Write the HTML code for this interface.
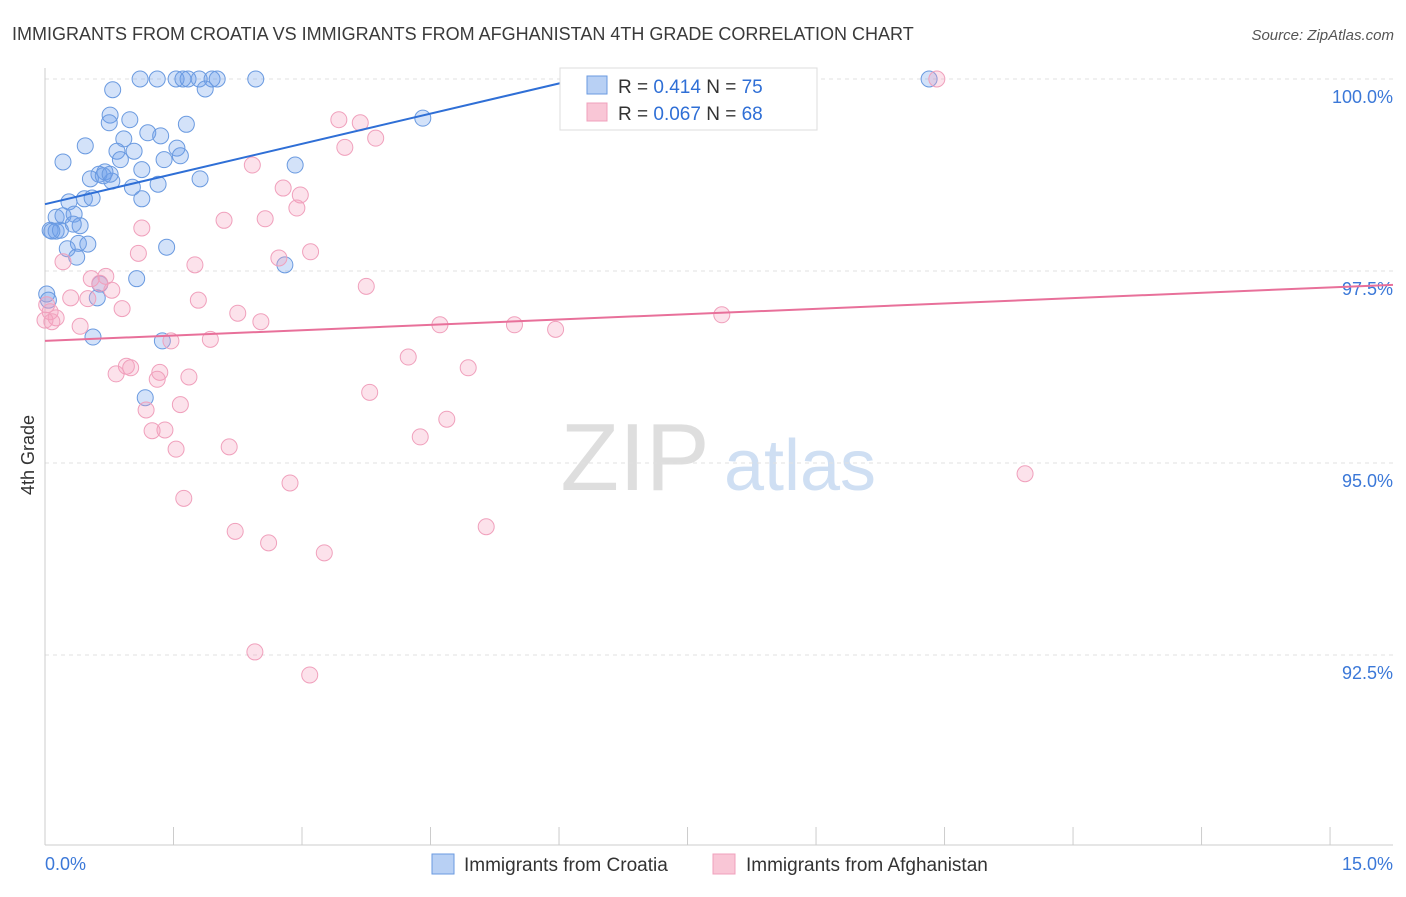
<!DOCTYPE html>
<html><head><meta charset="utf-8"><style>
body{margin:0;background:#fff;font-family:"Liberation Sans",sans-serif;}
svg text{font-family:"Liberation Sans",sans-serif;}
</style></head><body>
<svg id="chart" width="1406" height="892" xmlns="http://www.w3.org/2000/svg">
<text x="12" y="40" font-size="18" fill="#3a3a3a">IMMIGRANTS FROM CROATIA VS IMMIGRANTS FROM AFGHANISTAN 4TH GRADE CORRELATION CHART</text>
<text x="1394" y="40" font-size="15" fill="#555" font-style="italic" text-anchor="end">Source: ZipAtlas.com</text>
<g>
<text x="635" y="490" font-size="96" fill="#dedede" font-family="Liberation Serif" text-anchor="middle">ZIP</text>
<text x="800" y="490" font-size="72" fill="#cfdff3" text-anchor="middle">atlas</text>
</g>
<g id="grid"></g>
<g id="axes"></g>
<g id="marks"></g>
<text transform="translate(34,455) rotate(-90)" font-size="18" fill="#333" text-anchor="middle">4th Grade</text>
<g>
<rect x="560" y="68" width="257" height="62" fill="#fff" stroke="#ddd"/>
<rect x="587" y="76" width="20" height="18" fill="#b8d0f4" stroke="#6a9ae0"/>
<rect x="587" y="103" width="20" height="18" fill="#f9c6d6" stroke="#f0a0bc"/>
<text x="618" y="93" font-size="19" fill="#333">R = <tspan fill="#2f6fd6">0.414</tspan>   N = <tspan fill="#2f6fd6">75</tspan></text>
<text x="618" y="120" font-size="19" fill="#333">R = <tspan fill="#2f6fd6">0.067</tspan>   N = <tspan fill="#2f6fd6">68</tspan></text>
</g>
<g>
<rect x="432" y="854" width="22" height="20" fill="#b8d0f4" stroke="#6a9ae0"/>
<text x="464" y="871" font-size="19" fill="#333">Immigrants from Croatia</text>
<rect x="713" y="854" width="22" height="20" fill="#f9c6d6" stroke="#f0a0bc"/>
<text x="746" y="871" font-size="19" fill="#333">Immigrants from Afghanistan</text>
</g>
</svg>
<script>
const xTickVals=[0,1.5,3,4.5,6,7.5,9,10.5,12,13.5,15];
const xTickLabels=["0.0%","15.0%"];
const yTickVals=[100,97.5,95,92.5];
const yTickLabels=["100.0%","97.5%","95.0%","92.5%"];
const croatiaX=[1.11,1.31,1.53,1.61,1.67,1.80,1.95,2.01,2.46,10.32,0.79,1.87,0.76,0.99,1.65,4.41,0.75,1.20,1.35,0.92,0.47,0.84,1.04,1.54,1.58,0.21,0.88,1.39,2.92,1.13,0.70,0.63,0.53,0.78,1.81,1.02,1.32,0.28,0.46,0.55,1.13,0.13,0.34,0.21,0.06,0.13,0.41,0.33,0.18,0.39,0.26,0.50,1.42,0.37,2.80,1.07,0.64,0.61,0.02,0.04,0.56,1.37,1.17,0.08,0.68,0.76];
const croatiaY=[100,100,100,100,100,100,100,100,100,100,99.86,99.87,99.53,99.47,99.41,99.49,99.43,99.30,99.26,99.22,99.13,99.06,99.06,99.10,99.00,98.92,98.95,98.95,98.88,98.82,98.79,98.76,98.70,98.67,98.70,98.59,98.63,98.40,98.44,98.45,98.44,98.20,98.24,98.22,98.03,98.02,98.09,98.11,98.03,97.86,97.79,97.85,97.81,97.68,97.58,97.40,97.33,97.15,97.20,97.12,96.64,96.59,95.85,98.02,98.74,98.76];
const afghanX=[6.85,10.41,3.43,3.68,3.86,3.50,2.42,2.78,2.98,2.94,2.09,2.57,1.13,1.09,3.10,2.73,1.75,0.21,0.54,0.71,0.64,0.78,3.75,0.30,0.50,1.79,0.90,2.25,2.52,0.06,0.13,0.41,4.61,5.48,5.96,7.90,1.93,1.47,4.24,4.94,0.95,0.83,1.00,1.34,1.31,1.68,3.79,1.58,1.18,4.69,4.38,1.40,1.25,2.15,1.53,11.44,2.86,1.62,5.15,2.22,2.61,3.26,2.45,3.09,0.0,0.08,0.02];
const afghanY=[100,100,99.47,99.43,99.23,99.11,98.88,98.58,98.49,98.32,98.16,98.18,98.06,97.73,97.75,97.67,97.58,97.62,97.40,97.43,97.34,97.25,97.30,97.15,97.14,97.12,97.01,96.95,96.84,96.97,96.89,96.78,96.80,96.80,96.74,96.93,96.61,96.59,96.38,96.24,96.26,96.16,96.24,96.18,96.09,96.12,95.92,95.76,95.69,95.57,95.34,95.43,95.42,95.21,95.18,94.86,94.74,94.54,94.17,94.11,93.96,93.83,92.54,92.24,96.86,96.84,97.06];
const croatiaTrend=[98.37,0.262];
const afghanTrend=[96.59,0.0464];
const NS="http://www.w3.org/2000/svg";
const X0=45,XR=1393,PX=85.67,Y100=79,PY=76.8,YB=845;
const xs=v=>X0+v*PX, ys=v=>Y100+(100-v)*PY;
function mk(t,a,p){const e=document.createElementNS(NS,t);for(const k in a)e.setAttribute(k,a[k]);p.appendChild(e);return e;}
const grid=document.getElementById('grid'),axes=document.getElementById('axes'),marks=document.getElementById('marks');
yTickVals.forEach((v,i)=>{
 const l=mk('line',{x1:X0,x2:XR,y1:ys(v),y2:ys(v),stroke:'#e0e0e0','stroke-dasharray':'4,4'},grid);
 
 
 const t=mk('text',{x:1393,y:ys(v)+24,'font-size':18,fill:'#3b78d8','text-anchor':'end'},axes);
 t.textContent=yTickLabels[i];
 
 
});
mk('line',{x1:X0,x2:X0,y1:68,y2:YB,stroke:'#ccc'},axes);
mk('line',{x1:X0,x2:XR,y1:YB,y2:YB,stroke:'#ccc'},axes);
xTickVals.forEach(v=>{
 const l=mk('line',{x1:xs(v),x2:xs(v),y1:YB,y2:YB-18,stroke:'#ccc'},axes);
 
 
});
const t0=mk('text',{x:45,y:870,'font-size':18,fill:'#3b78d8'},axes);t0.textContent=xTickLabels[0];


const t1=mk('text',{x:1393,y:870,'font-size':18,fill:'#3b78d8','text-anchor':'end'},axes);t1.textContent=xTickLabels[1];


function pts(X,Y,fill,stroke,name){X.forEach((x,i)=>{
 const c=mk('circle',{cx:xs(x),cy:ys(Y[i]),r:8,fill:fill,stroke:stroke,'stroke-width':1},marks);
 
 
});}
pts(croatiaX,croatiaY,'rgba(110,160,235,0.3)','#6a9ae0','croatia-point');
pts(afghanX,afghanY,'rgba(245,160,190,0.3)','#f0a0bc','afghanistan-point');
function trend(tr,x2,color,name){
 const l=mk('line',{x1:xs(0),y1:ys(tr[0]),x2:xs(x2),y2:ys(tr[0]+tr[1]*x2),stroke:color,'stroke-width':2},marks);
 
 
}
trend(croatiaTrend,(100-croatiaTrend[0])/croatiaTrend[1],'#2f6fd6','croatia-trendline');
trend(afghanTrend,(XR-X0)/PX,'#e8709a','afghanistan-trendline');
</script>
</body></html>
